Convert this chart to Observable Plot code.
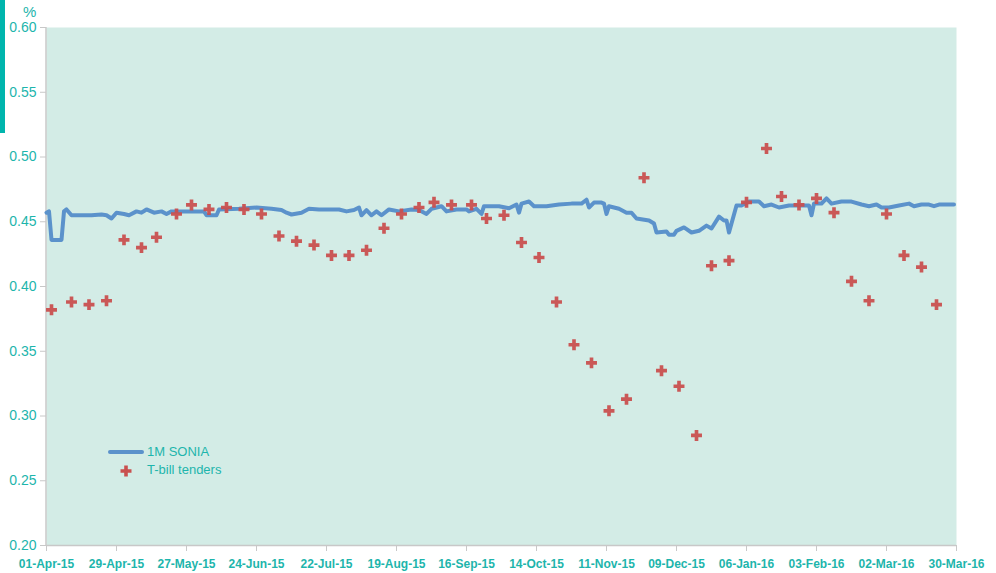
<!DOCTYPE html>
<html>
<head>
<meta charset="utf-8">
<script src="https://cdn.jsdelivr.net/npm/d3@7"></script>
<script src="https://cdn.jsdelivr.net/npm/@observablehq/plot@0.6"></script>
<style>
  html, body { margin: 0; padding: 0; background: #fff; }
  #wrap { position: relative; width: 996px; height: 573px; font-family: "Liberation Sans", Arial, sans-serif; }
  #bar { position: absolute; left: 0; top: 0; width: 5px; height: 133px; background: #00b5ad; }
  #unit { position: absolute; left: 23px; top: 3px; font-size: 15px; color: #1db5ac; }
  #legend { position: absolute; left: 108px; top: 443px; font-size: 13px; color: #1db5ac; line-height: 18px; }
  #legend .row { display: flex; align-items: center; height: 18px; }
  #legend svg { width: 38px; height: 18px; margin-right: 1px; }
</style>
</head>
<body>
<div id="wrap">
  <div id="bar"></div>
  <div id="unit">%</div>
  <div id="chart"></div>
  <div id="legend">
    <div class="row"><svg><line x1="2" y1="9" x2="34" y2="9" stroke="#5b92cb" stroke-width="4" stroke-linecap="round"/></svg><span>1M SONIA</span></div>
    <div class="row"><svg><path transform="translate(18,10)" d="M-5.5,-1.8H-1.8V-5.5H1.8V-1.8H5.5V1.8H1.8V5.5H-1.8V1.8H-5.5Z" fill="#c9504f"/></svg><span>T-bill tenders</span></div>
  </div>
</div>
<script>
// 1M SONIA (daily line)
const soniaDates = [
  "2015-04-01","2015-04-02","2015-04-03","2015-04-07","2015-04-08","2015-04-09","2015-04-11",
  "2015-04-15","2015-04-19","2015-04-23","2015-04-25","2015-04-27","2015-04-29","2015-05-02",
  "2015-05-04","2015-05-07","2015-05-09","2015-05-11","2015-05-14","2015-05-17","2015-05-19",
  "2015-05-21","2015-05-28","2015-06-03","2015-06-04","2015-06-08","2015-06-09","2015-06-17",
  "2015-06-24","2015-06-30","2015-07-04","2015-07-06","2015-07-08","2015-07-12","2015-07-15",
  "2015-07-19","2015-07-27","2015-07-30","2015-08-02","2015-08-04","2015-08-05","2015-08-07",
  "2015-08-09","2015-08-11","2015-08-13","2015-08-16","2015-08-20","2015-08-25","2015-08-28",
  "2015-08-31","2015-09-02","2015-09-06","2015-09-08","2015-09-12","2015-09-16","2015-09-17",
  "2015-09-20","2015-09-22","2015-09-23","2015-09-29","2015-10-03","2015-10-06","2015-10-07",
  "2015-10-08","2015-10-11","2015-10-13","2015-10-18","2015-10-23","2015-10-28","2015-11-01",
  "2015-11-03","2015-11-04","2015-11-06","2015-11-09","2015-11-10","2015-11-11","2015-11-12",
  "2015-11-16","2015-11-19","2015-11-21","2015-11-23","2015-11-28","2015-11-30","2015-12-01",
  "2015-12-05","2015-12-06","2015-12-08","2015-12-09","2015-12-12","2015-12-15","2015-12-18",
  "2015-12-21","2015-12-23","2015-12-26","2015-12-28","2015-12-29","2015-12-30","2016-01-02",
  "2016-01-04","2016-01-07","2016-01-11","2016-01-13","2016-01-16","2016-01-19","2016-01-23",
  "2016-01-31","2016-02-01","2016-02-02","2016-02-05","2016-02-07","2016-02-09","2016-02-13",
  "2016-02-17","2016-02-21","2016-02-24","2016-02-27","2016-02-29","2016-03-03","2016-03-07",
  "2016-03-11","2016-03-13","2016-03-16","2016-03-19","2016-03-21","2016-03-23","2016-03-29"
];
const soniaValues = [
  0.457,0.458,0.436,0.436,0.458,0.4595,0.455,
  0.455,0.455,0.4556,0.455,0.4525,0.457,0.456,
  0.455,0.458,0.457,0.4595,0.457,0.458,0.456,
  0.458,0.458,0.458,0.455,0.455,0.4595,0.460,
  0.461,0.460,0.459,0.457,0.4556,0.457,0.460,
  0.4595,0.4595,0.458,0.459,0.461,0.455,0.459,
  0.455,0.458,0.455,0.4595,0.458,0.4595,0.459,
  0.456,0.460,0.462,0.458,0.4595,0.4595,0.458,
  0.460,0.456,0.462,0.462,0.4604,0.4633,0.457,
  0.464,0.4656,0.462,0.462,0.4633,0.464,0.464,
  0.467,0.461,0.4648,0.4648,0.464,0.456,0.462,
  0.460,0.457,0.457,0.4525,0.451,0.4486,0.4417,
  0.4425,0.440,0.440,0.443,0.4456,0.4417,0.443,
  0.447,0.4448,0.454,0.451,0.451,0.4417,0.4625,
  0.4625,0.4656,0.4656,0.462,0.4633,0.461,0.4625,
  0.4625,0.455,0.464,0.464,0.468,0.464,0.4656,
  0.4656,0.4633,0.462,0.4633,0.461,0.461,0.4625,
  0.464,0.462,0.4633,0.4633,0.462,0.4633,0.4633
];

// T-bill tenders (weekly points)
const tbillDates = [
  "2015-04-03","2015-04-11","2015-04-18","2015-04-25","2015-05-02","2015-05-09","2015-05-15",
  "2015-05-23","2015-05-29","2015-06-05","2015-06-12","2015-06-19","2015-06-26","2015-07-03",
  "2015-07-10","2015-07-17","2015-07-24","2015-07-31","2015-08-07","2015-08-14","2015-08-21",
  "2015-08-28","2015-09-03","2015-09-10","2015-09-18","2015-09-24","2015-10-01","2015-10-08",
  "2015-10-15","2015-10-22","2015-10-29","2015-11-05","2015-11-12","2015-11-19","2015-11-26",
  "2015-12-03","2015-12-10","2015-12-17","2015-12-23","2015-12-30","2016-01-06","2016-01-14",
  "2016-01-20","2016-01-27","2016-02-03","2016-02-10","2016-02-17","2016-02-24","2016-03-02",
  "2016-03-09","2016-03-16","2016-03-22"
];
const tbillValues = [
  0.382,0.388,0.386,0.389,0.436,0.430,0.438,
  0.456,0.463,0.4595,0.461,0.4595,0.456,0.439,
  0.435,0.432,0.424,0.424,0.428,0.445,0.456,
  0.461,0.465,0.463,0.463,0.4525,0.455,0.434,
  0.4224,0.388,0.355,0.341,0.304,0.313,0.484,
  0.335,0.323,0.285,0.416,0.420,0.465,0.5066,
  0.4695,0.463,0.468,0.457,0.404,0.389,0.456,
  0.424,0.415,0.386
];

const xTickDates = [
  "2015-04-01","2015-04-29","2015-05-27","2015-06-24","2015-07-22","2015-08-19","2015-09-16",
  "2015-10-14","2015-11-11","2015-12-09","2016-01-06","2016-02-03","2016-03-02","2016-03-30"
];
const yTicks = [0.20,0.25,0.30,0.35,0.40,0.45,0.50,0.55,0.60];

const parse = d3.utcParse("%Y-%m-%d");
const sonia = soniaDates.map((d, i) => ({date: parse(d), value: soniaValues[i]}));
const tbill = tbillDates.map((d, i) => ({date: parse(d), value: tbillValues[i]}));
const xTicks = xTickDates.map(parse);

const teal = "#1db5ac";
const chart = Plot.plot({
  width: 996,
  height: 573,
  marginLeft: 46,
  marginRight: 40,
  marginTop: 27,
  marginBottom: 28,
  style: {fontFamily: '"Liberation Sans", Arial, sans-serif', background: "transparent", overflow: "visible"},
  x: {type: "utc", domain: [xTicks[0], xTicks[xTicks.length - 1]]},
  y: {domain: [0.20, 0.60]},
  marks: [
    Plot.frame({fill: "#d3ece6", stroke: null}),
    Plot.axisY({ticks: yTicks, tickFormat: d3.format(".2f"), tickSize: 6, tickPadding: 4, stroke: "#c8c8c8", color: teal, fontSize: 14, label: null}),
    Plot.axisX({ticks: xTicks, tickFormat: d3.utcFormat("%d-%b-%y"), tickSize: 6, tickPadding: 8, stroke: "#c8c8c8", color: teal, fontSize: 12, fontWeight: "bold", label: null}),
    Plot.ruleX([xTicks[0]], {stroke: "#c8c8c8", strokeWidth: 1.5, dx: -0.5}),
    Plot.ruleY([0.20], {stroke: "#c8c8c8", strokeWidth: 1.5}),
    Plot.line(sonia, {x: "date", y: "value", stroke: "#5b92cb", strokeWidth: 4, strokeLinejoin: "round", strokeLinecap: "round"}),
    Plot.dot(tbill, {x: "date", y: "value", symbol: "cross", r: 4.6, fill: "#c9504f", stroke: "none", fillOpacity: 0.95})
  ]
});
document.getElementById("chart").appendChild(chart);
</script>
</body>
</html>
